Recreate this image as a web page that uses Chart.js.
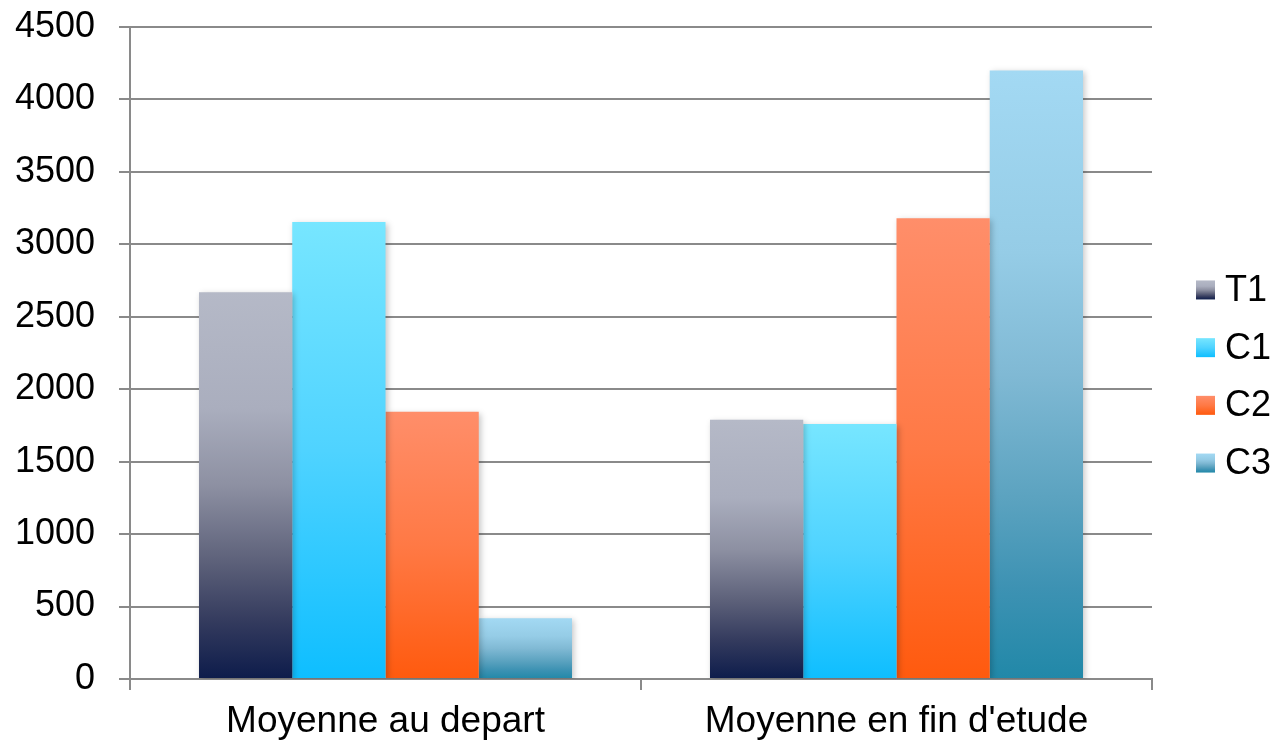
<!DOCTYPE html>
<html>
<head>
<meta charset="utf-8">
<script src="https://cdn.jsdelivr.net/npm/chart.js@4.4.0/dist/chart.umd.min.js"></script>
<style>
  html, body { margin: 0; padding: 0; background: #ffffff; }
  #wrap { width: 1275px; height: 744px; position: relative; }
</style>
</head>
<body>
<div id="wrap"><canvas id="c" width="1275" height="744"></canvas></div>
<script>
// ---- Data ----
const categories = ['Moyenne au depart', "Moyenne en fin d'etude"];
const seriesNames = ['T1', 'C1', 'C2', 'C3'];
const t1Values = [2670, 1790];
const c1Values = [3155, 1760];
const c2Values = [1845, 3180];
const c3Values = [420, 4200];
const yMin = 0, yMax = 4500, yStep = 500;

// ---- Styles (gradient stops: [offset, colour]) ----
const gradientStops = {
  T1: [[0, '#B5B9C7'], [0.3, '#AAAEBE'], [0.5, '#8D90A2'], [0.7, '#5C6079'], [0.85, '#343B5E'], [1, '#0D1C4B']],
  C1: [[0, '#77E6FF'], [0.5, '#4FD3FF'], [1, '#0EBEFF']],
  C2: [[0, '#FF8E6A'], [0.5, '#FF7945'], [1, '#FF5A0E']],
  C3: [[0, '#A3D9F3'], [0.3, '#95CCE6'], [0.5, '#80B9D4'], [0.7, '#5CA3C0'], [0.85, '#3D92B3'], [1, '#2188A8']]
};
const FONT = '"Liberation Sans", Arial, Helvetica, sans-serif';

function makeGradient(c, name, top, bottom) {
  const g = c.createLinearGradient(0, top, 0, bottom);
  gradientStops[name].forEach(([o, col]) => g.addColorStop(o, col));
  return g;
}

function barGradient(name) {
  return function (ctx) {
    const chart = ctx.chart;
    const first = gradientStops[name][0][1];
    if (!chart.chartArea || ctx.type !== 'data' || !chart.scales.y) return first;
    const y = chart.scales.y;
    const top = y.getPixelForValue(ctx.raw);
    const bottom = y.getPixelForValue(0);
    if (!isFinite(top) || !isFinite(bottom) || top === bottom) return first;
    return makeGradient(chart.ctx, name, top, bottom);
  };
}

const valueLists = [t1Values, c1Values, c2Values, c3Values];
const datasets = seriesNames.map((name, i) => ({
  label: name,
  data: valueLists[i],
  backgroundColor: barGradient(name),
  borderWidth: 0,
  categoryPercentage: 0.73,
  barPercentage: 1.0
}));

// Shadow for bars
const shadowPlugin = {
  id: 'barShadow',
  beforeDatasetsDraw(chart) {
    const c = chart.ctx;
    c.save();
    c.shadowColor = 'rgba(0,0,0,0.22)';
    c.shadowBlur = 6;
    c.shadowOffsetX = 2;
    c.shadowOffsetY = 2;
  },
  afterDatasetsDraw(chart) {
    chart.ctx.restore();
  }
};

// Custom legend on the right
const sideLegend = {
  id: 'sideLegend',
  afterDraw(chart) {
    const c = chart.ctx;
    const area = chart.chartArea;
    const boxX = area.right + 44;
    const box = 19;
    const rowGap = 57.7;
    const n = chart.data.datasets.length;
    const centerY = 376.5;
    const firstY = centerY - rowGap * (n - 1) / 2;
    c.save();
    c.font = '36px ' + FONT;
    c.textBaseline = 'middle';
    c.textAlign = 'left';
    chart.data.datasets.forEach((ds, i) => {
      const cy = firstY + i * rowGap;
      c.fillStyle = makeGradient(c, ds.label, cy - box / 2, cy + box / 2);
      c.fillRect(boxX, cy - box / 2, box, box);
      c.fillStyle = '#000000';
      c.fillText(ds.label, boxX + box + 10, cy + 1);
    });
    c.restore();
  }
};

new Chart(document.getElementById('c'), {
  type: 'bar',
  data: { labels: categories, datasets: datasets },
  options: {
    responsive: false,
    animation: false,
    devicePixelRatio: 1,
    layout: { padding: { left: 15, right: 123, top: 27, bottom: 0 } },
    plugins: {
      legend: { display: false },
      tooltip: { enabled: false }
    },
    scales: {
      x: {
        offset: true,
        afterFit: (scale) => { scale.height = 65; scale.paddingLeft = 0; scale.paddingRight = 0; },
        grid: {
          display: true,
          offset: true,
          drawOnChartArea: false,
          drawTicks: true,
          tickLength: 11,
          color: '#8a8a8a',
          lineWidth: 2
        },
        border: { display: true, color: '#8a8a8a', width: 2 },
        ticks: {
          color: '#000000',
          padding: 13,
          font: { family: FONT, size: 37, lineHeight: 1.0 },
          maxRotation: 0
        }
      },
      y: {
        min: yMin,
        max: yMax,
        afterFit: (scale) => { scale.width = 115; scale.paddingTop = 0; scale.paddingBottom = 0; },
        ticks: {
          stepSize: yStep,
          color: '#000000',
          padding: 24,
          font: { family: FONT, size: 36 },
          callback: (v) => String(v)
        },
        grid: {
          color: '#8a8a8a',
          lineWidth: 2,
          tickLength: 11,
          drawTicks: true
        },
        border: { display: true, color: '#8a8a8a', width: 2 }
      }
    }
  },
  plugins: [shadowPlugin, sideLegend]
});
</script>
</body>
</html>
